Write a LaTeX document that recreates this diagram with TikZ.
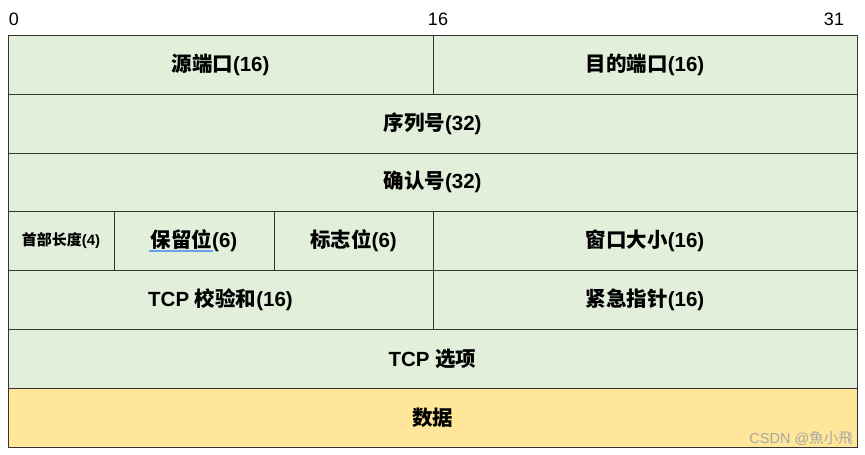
\documentclass[tikz,border=0pt]{standalone}
\usepackage{fontspec}
\setmainfont{Liberation Sans}
\newfontfamily\cjk{Noto Sans CJK SC}
\newcommand{\zh}[1]{{\cjk #1}}
\definecolor{cellgreen}{HTML}{E2EFDA}
\definecolor{cellyellow}{HTML}{FFE699}
\definecolor{gridline}{HTML}{333333}
\definecolor{wmgrey}{HTML}{A6A6A6}
\definecolor{squig}{HTML}{6D9EEB}
\begin{document}
\begin{tikzpicture}[x=1pt,y=1pt,
  cell/.style={draw=gridline, line width=0.9pt, fill=cellgreen, anchor=north west,
    inner sep=0pt, outer sep=0pt, align=center,
    font=\fontsize{20.5}{24}\selectfont\bfseries},
  datacell/.style={cell, fill=cellyellow},
  bitlabel/.style={font=\fontsize{18}{21}\selectfont, inner sep=0pt}]
\useasboundingbox (0,0) rectangle (865,455);
% row 1
\node[cell, minimum width=425pt, minimum height=59pt] (src) at (8,420) {\zh{源端口}(16)};
\node[cell, minimum width=424pt, minimum height=59pt] (dst) at (433,420) {\zh{目的端口}(16)};
% row 2
\node[cell, minimum width=849pt, minimum height=59pt] (seq) at (8,361) {\zh{序列号}(32)};
% row 3
\node[cell, minimum width=849pt, minimum height=58pt] (ack) at (8,302) {\zh{确认号}(32)};
% row 4
\node[cell, minimum width=106pt, minimum height=59pt, font=\fontsize{15}{18}\selectfont\bfseries] (hlen) at (8,244) {\zh{首部长度}(4)};
\node[cell, minimum width=160pt, minimum height=59pt] (rsv) at (114,244) {\zh{保留位}(6)};
\node[cell, minimum width=159pt, minimum height=59pt] (flags) at (274,244) {\zh{标志位}(6)};
\node[cell, minimum width=424pt, minimum height=59pt] (win) at (433,244) {\zh{窗口大小}(16)};
% row 5
\node[cell, minimum width=425pt, minimum height=59pt] (cks) at (8,185) {TCP \zh{校验和}(16)};
\node[cell, minimum width=424pt, minimum height=59pt] (urg) at (433,185) {\zh{紧急指针}(16)};
% row 6
\node[cell, minimum width=849pt, minimum height=59pt] (opt) at (8,126) {TCP \zh{选项}};
% row 7
\node[datacell, minimum width=849pt, minimum height=59pt] (data) at (8,67) {\zh{数据}};
% spell-check underline
\draw[squig, line width=1.2pt] (149,204) -- (213,204);
% bit labels
\node[bitlabel] (b0) at (14,436) {0};
\node[bitlabel] (b16) at (438,436) {16};
\node[bitlabel] (b31) at (834,436) {31};
% watermark
\node[anchor=east, inner sep=0pt, text=wmgrey, font=\fontsize{14.5}{17}\selectfont] (wm) at (853,17) {CSDN @\zh{魚小飛}};
\end{tikzpicture}
\end{document}
